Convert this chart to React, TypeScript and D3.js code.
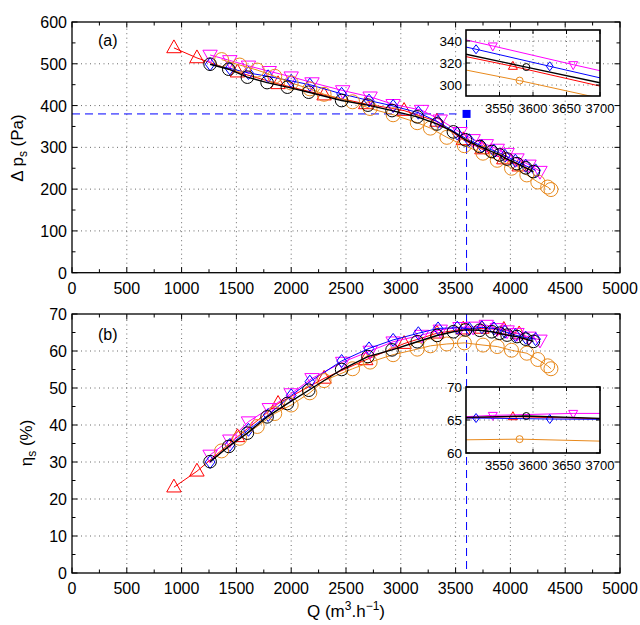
import React from 'react';
import * as d3 from 'd3';

// ---------- data ----------
const xTickVals = [0, 500, 1000, 1500, 2000, 2500, 3000, 3500, 4000, 4500, 5000];
const dpTickVals = [0, 100, 200, 300, 400, 500, 600];
const etaTickVals = [0, 10, 20, 30, 40, 50, 60, 70];
const insetXTickVals = [3550, 3600, 3650, 3700];
const insetDpTickVals = [300, 320, 340];
const insetEtaTickVals = [60, 65, 70];

const redQ = [930, 1140, 1510, 1880, 2300, 2680, 3030, 3330, 3570, 3740, 3940, 4080];
const redDp = [538, 514, 480, 452, 425, 404, 388, 362, 318, 296, 272, 255];
const redEta = [23.2, 27.5, 36.8, 45.8, 52.6, 57.6, 62.0, 64.8, 65.9, 66.1, 65.8, 64.6];

const magentaQ = [1260, 1440, 1610, 1800, 2000, 2190, 2470, 2720, 2930, 3190, 3360, 3540, 3660, 3780, 3880, 3970, 4060, 4170, 4270];
const magentaDp = [521, 508, 495, 482, 469, 455, 436, 421, 403, 389, 366, 336, 319, 307, 296, 286, 273, 258, 243];
const magentaEta = [31.9, 36.0, 40.9, 44.5, 48.5, 52.6, 57.0, 60.0, 62.5, 64.3, 65.7, 66.4, 66.5, 67.0, 66.1, 65.5, 64.8, 63.8, 63.0];

const blueQ = [1260, 1440, 1610, 1790, 2000, 2170, 2460, 2710, 2930, 3160, 3340, 3515, 3625, 3740, 3850, 3950, 4045, 4140, 4230];
const blueDp = [499, 489, 478, 470, 459, 450, 428, 412, 399, 383, 361, 333, 317, 303, 292, 280, 268, 256, 245];
const blueEta = [30.0, 34.6, 38.7, 42.7, 48.0, 51.7, 57.3, 60.7, 63.0, 64.8, 66.1, 66.3, 66.0, 66.4, 66.1, 65.2, 64.3, 63.6, 63.2];

const orangeQ = [1365, 1530, 1690, 1850, 2000, 2170, 2300, 2560, 2720, 2930, 3150, 3270, 3420, 3580, 3750, 3880, 4010, 4150, 4250, 4340, 4370];
const orangeDp = [510, 497, 485, 470, 454, 440, 427, 409, 393, 378, 359, 346, 324, 304, 286, 269, 250, 234, 217, 205, 199];
const orangeEta = [33.0, 36.4, 39.6, 43.1, 45.4, 48.7, 52.0, 55.2, 57.0, 59.0, 60.5, 61.4, 61.9, 62.2, 61.6, 61.2, 60.2, 59.4, 57.7, 56.0, 55.2];

const blackQ = [1260, 1430, 1600, 1780, 1965, 2160, 2460, 2700, 2920, 3150, 3330, 3480, 3590, 3720, 3830, 3900, 3970, 4060, 4140, 4210];
const blackDp = [499, 487, 468, 455, 444, 432, 412, 401, 388, 373, 356, 337, 318, 302, 290, 282, 272, 261, 251, 242];
const blackEta = [30.1, 34.2, 37.8, 42.2, 45.8, 49.4, 55.0, 58.5, 60.3, 62.5, 64.2, 65.2, 65.7, 65.6, 65.2, 64.8, 64.3, 63.9, 63.2, 62.6];

// design point
const designQ = [3600];
const designDp = [380];

// insets: first and last entries are line ends, interior points carry markers
const insetRedQ = [3500, 3570, 3700];
const insetRedDp = [325.8, 317, 299];
const insetRedEta = [65.3, 65.5, 65.2];
const insetMagentaQ = [3500, 3540, 3660, 3700];
const insetMagentaDp = [341, 335.5, 318.5, 313];
const insetMagentaEta = [65.5, 65.7, 66.0, 66.0];
const insetBlueQ = [3500, 3515, 3625, 3700];
const insetBlueDp = [334.5, 332.5, 317, 306.5];
const insetBlueEta = [65.3, 65.3, 65.15, 65.1];
const insetOrangeQ = [3500, 3580, 3700];
const insetOrangeDp = [313.6, 304, 288];
const insetOrangeEta = [62.0, 62.1, 61.8];
const insetBlackQ = [3500, 3590, 3700];
const insetBlackDp = [328, 316.3, 302];
const insetBlackEta = [65.4, 65.6, 65.25];

// ---------- styling ----------
const RED = '#ff0000';
const MAGENTA = '#ff00ff';
const BLUE = '#0000ff';
const ORANGE = '#e8891c';
const BLACK = '#000000';
const FONT = 'Liberation Sans, Arial, Helvetica, sans-serif';

const series = [
  { key: 'red', color: RED, shape: 'up', Q: redQ, dp: redDp, eta: redEta, iQ: insetRedQ, iDp: insetRedDp, iEta: insetRedEta, size: 8, lw: 1 },
  { key: 'magenta', color: MAGENTA, shape: 'down', Q: magentaQ, dp: magentaDp, eta: magentaEta, iQ: insetMagentaQ, iDp: insetMagentaDp, iEta: insetMagentaEta, size: 8, lw: 1 },
  { key: 'blue', color: BLUE, shape: 'diamond', Q: blueQ, dp: blueDp, eta: blueEta, iQ: insetBlueQ, iDp: insetBlueDp, iEta: insetBlueEta, size: 6.5, lw: 1 },
  { key: 'orange', color: ORANGE, shape: 'circle', Q: orangeQ, dp: orangeDp, eta: orangeEta, iQ: insetOrangeQ, iDp: insetOrangeDp, iEta: insetOrangeEta, size: 7, lw: 1 },
  { key: 'black', color: BLACK, shape: 'circle', Q: blackQ, dp: blackDp, eta: blackEta, iQ: insetBlackQ, iDp: insetBlackDp, iEta: insetBlackEta, size: 6.3, lw: 1.4 },
];

function Marker({ shape, x, y, s, color, sw = 1 }: any) {
  if (shape === 'circle') return <circle cx={x} cy={y} r={s} fill="none" stroke={color} strokeWidth={sw} />;
  let pts = '';
  if (shape === 'up') pts = `${x},${y - s} ${x - s * 0.9},${y + s * 0.6} ${x + s * 0.9},${y + s * 0.6}`;
  else if (shape === 'down') pts = `${x},${y + s} ${x - s * 0.9},${y - s * 0.6} ${x + s * 0.9},${y - s * 0.6}`;
  else pts = `${x},${y - s} ${x + s * 0.75},${y} ${x},${y + s} ${x - s * 0.75},${y}`;
  return <polygon points={pts} fill="none" stroke={color} strokeWidth={sw} />;
}

// ---------- scales ----------
const xMain = d3.scaleLinear().domain([0, 5000]).range([72, 620]);
const yDp = d3.scaleLinear().domain([0, 600]).range([272.7, 22]);
const yEta = d3.scaleLinear().domain([0, 70]).range([573, 314]);
const xInset = d3.scaleLinear().domain([3500, 3700]).range([466, 600]);
const yInsetDp = d3.scaleLinear().domain([290, 350]).range([96, 30]);
const yInsetEta = d3.scaleLinear().domain([60, 70]).range([453, 387]);

function MainGrid({ y, yTicks }: any) {
  const [x0, x1] = xMain.range();
  const [yb, yt] = y.range();
  return (
    <g>
      {xTickVals.slice(1, -1).map((v) => (
        <line key={'gx' + v} x1={xMain(v)} x2={xMain(v)} y1={yb} y2={yt} stroke="#444" strokeWidth={0.8} strokeDasharray="1,3.5" />
      ))}
      {yTicks.slice(1, -1).map((v: number) => (
        <line key={'gy' + v} x1={x0} x2={x1} y1={y(v)} y2={y(v)} stroke="#444" strokeWidth={0.8} strokeDasharray="1,3.5" />
      ))}
    </g>
  );
}

function MainFrame({ y, yTicks, minorStep }: any) {
  const [x0, x1] = xMain.range();
  const [yb, yt] = y.range();
  const xMinor = d3.range(250, 5000, 500);
  const yMinor = d3.range(minorStep, y.domain()[1], minorStep * 2);
  const T = 5.5, t = 3.5;
  return (
    <g>
      <rect x={x0} y={yt} width={x1 - x0} height={yb - yt} fill="none" stroke="#000" strokeWidth={1.3} />
      {xTickVals.map((v) => (
        <g key={'xt' + v}>
          <line x1={xMain(v)} x2={xMain(v)} y1={yb} y2={yb - T} stroke="#000" />
          <line x1={xMain(v)} x2={xMain(v)} y1={yt} y2={yt + T} stroke="#000" />
          <text x={xMain(v)} y={yb + 21} textAnchor="middle" fontSize={16} fontFamily={FONT}>{v}</text>
        </g>
      ))}
      {xMinor.map((v) => (
        <g key={'xm' + v}>
          <line x1={xMain(v)} x2={xMain(v)} y1={yb} y2={yb - t} stroke="#000" />
          <line x1={xMain(v)} x2={xMain(v)} y1={yt} y2={yt + t} stroke="#000" />
        </g>
      ))}
      {yTicks.map((v: number) => (
        <g key={'yt' + v}>
          <line x1={x0} x2={x0 + T} y1={y(v)} y2={y(v)} stroke="#000" />
          <line x1={x1} x2={x1 - T} y1={y(v)} y2={y(v)} stroke="#000" />
          <text x={x0 - 5} y={y(v) + 6} textAnchor="end" fontSize={16} fontFamily={FONT}>{v}</text>
        </g>
      ))}
      {yMinor.map((v: number) => (
        <g key={'ym' + v}>
          <line x1={x0} x2={x0 + t} y1={y(v)} y2={y(v)} stroke="#000" />
          <line x1={x1} x2={x1 - t} y1={y(v)} y2={y(v)} stroke="#000" />
        </g>
      ))}
    </g>
  );
}

function Inset({ y, yTicks, field }: any) {
  const [x0, x1] = xInset.range();
  const [yb, yt] = y.range();
  const clipId = 'clip-' + field;
  return (
    <g>
      <rect x={x0} y={yt} width={x1 - x0} height={yb - yt} fill="#fff" />
      <clipPath id={clipId}>
        <rect x={x0} y={yt} width={x1 - x0} height={yb - yt} />
      </clipPath>
      {insetXTickVals.slice(0, -1).map((v) => (
        <line key={'igx' + v} x1={xInset(v)} x2={xInset(v)} y1={yb} y2={yt} stroke="#444" strokeWidth={0.8} strokeDasharray="1,3.5" />
      ))}
      {yTicks.filter((v: number) => y(v) > yt + 1 && y(v) < yb - 1).map((v: number) => (
        <line key={'igy' + v} x1={x0} x2={x1} y1={y(v)} y2={y(v)} stroke="#444" strokeWidth={0.8} strokeDasharray="1,3.5" />
      ))}
      <g clipPath={`url(#${clipId})`}>
        {series.map((s) => {
          const vals = field === 'dp' ? s.iDp : s.iEta;
          const pts = s.iQ.map((q, i) => [xInset(q), y(vals[i])] as [number, number]);
          const line = d3.line()(pts) || '';
          return (
            <g key={'in' + s.key}>
              <path d={line} fill="none" stroke={s.color} strokeWidth={s.lw} />
              {pts.slice(1, -1).map((p, i) => (
                <Marker key={i} shape={s.shape} x={p[0]} y={p[1]} s={s.shape === 'circle' ? 3.5 : s.shape === 'diamond' ? 4.5 : 5} color={s.color} />
              ))}
            </g>
          );
        })}
      </g>
      <rect x={x0} y={yt} width={x1 - x0} height={yb - yt} fill="none" stroke="#000" strokeWidth={1.6} />
      {insetXTickVals.map((v) => (
        <g key={'ixt' + v}>
          <line x1={xInset(v)} x2={xInset(v)} y1={yb} y2={yb - 4} stroke="#000" />
          <line x1={xInset(v)} x2={xInset(v)} y1={yt} y2={yt + 4} stroke="#000" />
          <text x={xInset(v)} y={yb + 17} textAnchor="middle" fontSize={13} fontFamily={FONT}>{v}</text>
        </g>
      ))}
      {yTicks.map((v: number) => (
        <g key={'iyt' + v}>
          <line x1={x0} x2={x0 + 4} y1={y(v)} y2={y(v)} stroke="#000" />
          <line x1={x1} x2={x1 - 4} y1={y(v)} y2={y(v)} stroke="#000" />
          <text x={x0 - 4} y={y(v) + 5} textAnchor="end" fontSize={13.5} fontFamily={FONT}>{v}</text>
        </g>
      ))}
    </g>
  );
}

function SeriesLayer({ y, field }: any) {
  return (
    <g>
      {series.map((s) => {
        const vals = field === 'dp' ? s.dp : s.eta;
        const pts = s.Q.map((q, i) => [xMain(q), y(vals[i])] as [number, number]);
        const line = d3.line()(pts) || '';
        return (
          <g key={s.key}>
            <path d={line} fill="none" stroke={s.color} strokeWidth={s.lw} />
            {pts.map((p, i) => (
              <Marker key={i} shape={s.shape} x={p[0]} y={p[1]} s={s.size} color={s.color} />
            ))}
          </g>
        );
      })}
    </g>
  );
}

export default function App() {
  const qd = designQ[0];
  const pd = designDp[0];
  return (
    <svg width={640} height={625} viewBox="0 0 640 625" style={{ position: 'absolute', left: 0, top: 0, background: '#fff' }}>
      <rect x={0} y={0} width={640} height={625} fill="#fff" />
      {/* panel (a) */}
      <MainGrid y={yDp} yTicks={dpTickVals} />
      <line x1={xMain(0)} x2={xMain(qd) - 10} y1={yDp(pd)} y2={yDp(pd)} stroke={BLUE} strokeWidth={1} strokeDasharray="8,5" />
      <line x1={xMain(qd)} x2={xMain(qd)} y1={yDp(pd) + 6} y2={yDp(0)} stroke={BLUE} strokeWidth={1} strokeDasharray="8,5" />
      <rect x={xMain(qd) - 4} y={yDp(pd) - 4} width={8} height={8} fill={BLUE} />
      <SeriesLayer y={yDp} field="dp" />
      <MainFrame y={yDp} yTicks={dpTickVals} minorStep={50} />
      <Inset y={yInsetDp} yTicks={insetDpTickVals} field="dp" />
      <text x={98} y={46} fontSize={16} fontFamily={FONT}>(a)</text>
      <text transform={`translate(23,148) rotate(-90)`} textAnchor="middle" fontSize={17} fontFamily={FONT}>
        Δ p<tspan dy={4} fontSize={12}>s</tspan><tspan dy={-4}> (Pa)</tspan>
      </text>

      {/* panel (b) */}
      <MainGrid y={yEta} yTicks={etaTickVals} />
      <line x1={xMain(qd)} x2={xMain(qd)} y1={yEta(70)} y2={yEta(0)} stroke={BLUE} strokeWidth={1} strokeDasharray="8,5" />
      <SeriesLayer y={yEta} field="eta" />
      <MainFrame y={yEta} yTicks={etaTickVals} minorStep={5} />
      <Inset y={yInsetEta} yTicks={insetEtaTickVals} field="eta" />
      <text x={98} y={340} fontSize={16} fontFamily={FONT}>(b)</text>
      <text transform={`translate(32,443) rotate(-90)`} textAnchor="middle" fontSize={17} fontFamily={FONT}>
        η<tspan dy={4} fontSize={12}>s</tspan><tspan dy={-4}> (%)</tspan>
      </text>

      <text x={346} y={617} textAnchor="middle" fontSize={17} fontFamily={FONT}>
        Q (m<tspan dy={-7} fontSize={12}>3</tspan><tspan dy={7}>.h</tspan><tspan dy={-7} fontSize={12}>−1</tspan><tspan dy={7}>)</tspan>
      </text>
    </svg>
  );
}
